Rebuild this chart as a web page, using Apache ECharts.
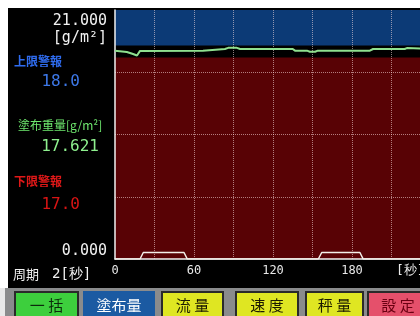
<!DOCTYPE html>
<html>
<head>
<meta charset="utf-8">
<script src="https://cdn.jsdelivr.net/npm/echarts@6/dist/echarts.min.js"></script>
<style>
  html, body { margin: 0; padding: 0; background: #fff; }
  #chart { width: 420px; height: 316px; }
</style>
</head>
<body>
<div id="chart"></div>
<script>
// 塗布重量 trend (t in s, value in g/m2)
var weightTimes  = [0, 9, 13.7, 16.7, 19, 66.8, 68.3, 83.5, 86, 92.6, 95, 126.8, 128, 129.5, 135, 136.7, 145.8, 148, 152, 154, 193.6, 196, 220, 221.7, 223, 240];
var weightValues = [17.57, 17.46, 17.29, 17.16, 17.55, 17.57, 17.71, 17.71, 17.81, 17.81, 17.71, 17.71, 17.82, 17.71, 17.71, 17.57, 17.57, 17.48, 17.48, 17.57, 17.57, 17.71, 17.71, 17.79, 17.71, 17.71];
// white pulse trace along the bottom
var pulseTimes  = [0, 19, 21.5, 52.4, 54.9, 154.4, 157, 186, 188.5, 240];
var pulseValues = [0, 0, 0.55, 0.55, 0, 0, 0.55, 0.55, 0, 0];

var yMax = 21;
var upperLimit = 18.0;
var lowerLimit = 17.0;
var currentWeight = 17.621;
var period = 2;
var xTickLabels = [0, 60, 120, 180];
var yEndLabels = ['0.000', '21.000'];
var buttonLabels = ['一 括', '塗布量', '流 量', '速 度', '秤 量', '設 定'];

var mono = '"DejaVu Sans Mono", monospace';
var cjk = '"Noto Sans CJK JP", sans-serif';

function pairs(xs, ys) {
  var out = [];
  for (var i = 0; i < xs.length; i++) out.push([xs[i], ys[i]]);
  return out;
}

function txt(x, y, s, color, font, align) {
  return {
    type: 'text', x: x, y: y, z: 10,
    style: { text: s, fill: color, font: font, align: align || 'left', verticalAlign: 'middle' }
  };
}

// bottom button bar
var btnBox = [
  [15, 63, '#3dcf3d', '#0c2a0c'],
  [84, 70, '#1b5aa2', '#ffffff'],
  [162, 61, '#dfe622', '#1a1a00'],
  [236, 62, '#dfe622', '#1a1a00'],
  [306, 57, '#dfe622', '#1a1a00'],
  [368, 60, '#e5506b', '#6a0012']
];
var buttons = [];
for (var b = 0; b < buttonLabels.length; b++) {
  var bx = btnBox[b];
  buttons.push({
    type: 'rect', z: 9,
    shape: { x: bx[0], y: 292, width: bx[1], height: 30 },
    style: { fill: bx[2], stroke: b === 1 ? bx[2] : '#2a2a2a', lineWidth: 2 }
  });
  buttons.push(txt(bx[0] + bx[1] / 2, 305, buttonLabels[b], bx[3], '15px ' + cjk, 'center'));
}

var chart = echarts.init(document.getElementById('chart'));
chart.setOption({
  backgroundColor: '#000',
  animation: false,
  // plot runs past the right edge of the screen shot
  grid: { left: 115, top: 10, width: 316, bottom: 57, outerBoundsMode: 'none', containLabel: false },
  xAxis: {
    type: 'value', min: 0, max: 240, interval: 30, z: 3,
    axisLine: { lineStyle: { color: '#f2f2f2', width: 1.5 } },
    axisTick: { show: false },
    axisLabel: {
      color: '#e8e8e8', fontFamily: mono, fontSize: 12, margin: 6,
      formatter: function (v) { return xTickLabels.indexOf(v) >= 0 ? String(v) : ''; }
    },
    splitLine: { show: true, showMinLine: false, showMaxLine: false,
      lineStyle: { color: 'rgba(255,225,225,0.55)', type: 'dotted' } }
  },
  yAxis: {
    type: 'value', min: 0, max: yMax, interval: 5.25, z: 3,
    axisLine: { show: true, lineStyle: { color: '#f2f2f2', width: 1.5 } },
    axisTick: { show: false },
    axisLabel: { show: false },
    splitLine: { show: true, showMinLine: false, showMaxLine: false,
      lineStyle: { color: 'rgba(255,225,225,0.55)', type: 'dotted' } }
  },
  series: [
    {
      // limit bands
      type: 'line', z: 1, data: [], silent: true,
      markArea: {
        silent: true,
        data: [
          [{ yAxis: upperLimit, itemStyle: { color: '#0c3a76' } }, { yAxis: yMax }],
          [{ yAxis: 0, itemStyle: { color: '#580205' } }, { yAxis: lowerLimit }]
        ]
      }
    },
    {
      type: 'line', z: 4, showSymbol: false,
      data: pairs(pulseTimes, pulseValues),
      lineStyle: { color: '#f4f0ea', width: 1.5 }
    },
    {
      type: 'line', z: 5, showSymbol: false,
      data: pairs(weightTimes, weightValues),
      lineStyle: { color: '#8fe08f', width: 2 }
    }
  ],
  graphic: [
    { type: 'rect', z: 8, shape: { x: 0, y: 0, width: 420, height: 8 }, style: { fill: '#fff' } },
    { type: 'rect', z: 8, shape: { x: 0, y: 0, width: 8, height: 290 }, style: { fill: '#fff' } },
    { type: 'rect', z: 8, shape: { x: 0, y: 288, width: 420, height: 28 }, style: { fill: '#8a8b8c' } },
    { type: 'rect', z: 8, shape: { x: 0, y: 288, width: 5, height: 28 }, style: { fill: '#e8e8e8' } },
    txt(107, 21, yEndLabels[1], '#f2f2f2', '15px ' + mono, 'right'),
    txt(107, 38, '[g/m²]', '#f2f2f2', '15px ' + mono, 'right'),
    txt(14, 61, '上限警報', '#2f6cf0', 'bold 12px ' + cjk),
    txt(80, 82, upperLimit.toFixed(1), '#3d78e8', '16px ' + mono, 'right'),
    txt(18, 125, '塗布重量[g/m²]', '#6ee86e', '12px ' + cjk),
    txt(99, 147, currentWeight.toFixed(3), '#8ef08e', '16px ' + mono, 'right'),
    txt(14, 181, '下限警報', '#e01818', 'bold 12px ' + cjk),
    txt(80, 205, lowerLimit.toFixed(1), '#d81414', '16px ' + mono, 'right'),
    txt(107, 251, yEndLabels[0], '#f2f2f2', '15px ' + mono, 'right'),
    txt(13, 274, '周期', '#f2f2f2', '13px ' + cjk),
    txt(52, 274, period + '[秒]', '#f2f2f2', '14px ' + mono),
    txt(396, 271, '[秒]', '#e8e8e8', '13px ' + mono)
  ].concat(buttons)
});
</script>
</body>
</html>
